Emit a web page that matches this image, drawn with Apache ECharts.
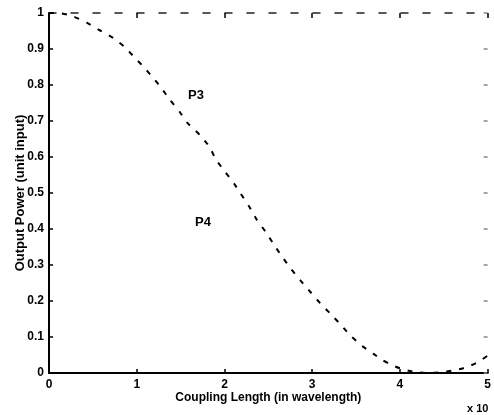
<!DOCTYPE html>
<html>
<head>
<meta charset="utf-8">
<script src="https://cdn.jsdelivr.net/npm/echarts@6/dist/echarts.min.js"></script>
<style>
  html, body { margin: 0; padding: 0; background: #fff; }
  #chart { width: 494px; height: 415px; }
</style>
</head>
<body>
<div id="chart"></div>
<script>
// coupling length (x 10^n wavelengths) and output power P3
const lengthX = [0, 0.1, 0.26, 0.44, 0.57, 0.73, 0.86, 0.97, 1.08, 1.19, 1.28, 1.38, 1.49, 1.58, 1.72, 1.83, 1.9,
  2.01, 2.11, 2.18, 2.28, 2.37, 2.47, 2.56, 2.66, 2.76, 2.87, 2.98, 3.09, 3.21, 3.33, 3.44, 3.57, 3.7,
  3.8, 3.9, 4.0, 4.1, 4.2, 4.3, 4.4, 4.5, 4.6, 4.7, 4.8, 4.9, 5.0]
const powerP3 = [1, 1.0, 0.992, 0.972, 0.953, 0.931, 0.906, 0.878, 0.85, 0.819, 0.792, 0.758, 0.725, 0.694, 0.661, 0.628, 0.594,
  0.558, 0.526, 0.5, 0.463, 0.425, 0.392, 0.358, 0.322, 0.289, 0.256, 0.225, 0.194, 0.164, 0.133, 0.103, 0.075, 0.053,
  0.036, 0.023, 0.013, 0.006, 0.002, 0.0, 0.001, 0.003, 0.007, 0.012, 0.02, 0.032, 0.048]

const xTicks = [0, 1, 2, 3, 4, 5]
const yTicks = [0, 0.1, 0.2, 0.3, 0.4, 0.5, 0.6, 0.7, 0.8, 0.9, 1]

const font = 'Liberation Sans, Arial, Helvetica, sans-serif'

const chart = echarts.init(document.getElementById('chart'), null, { renderer: 'canvas' })

chart.setOption({
  animation: false,
  backgroundColor: '#fff',
  grid: { left: 49, right: 2, top: 13, bottom: 42 },
  xAxis: [{
    type: 'value',
    min: xTicks[0],
    max: xTicks[xTicks.length - 1],
    interval: 1,
    name: 'Coupling Length (in wavelength)',
    nameLocation: 'middle',
    nameGap: 19,
    nameMoveOverlap: false,
    nameTextStyle: { color: '#000', fontFamily: font, fontSize: 12, fontWeight: 'bold' },
    axisLine: { onZero: false, lineStyle: { color: '#000', width: 2 } },
    axisTick: { inside: true, length: 4, lineStyle: { color: '#000', width: 1.5 } },
    axisLabel: { color: '#000', fontFamily: font, fontSize: 12, fontWeight: 'bold', margin: 6 },
    splitLine: { show: false }
  }, {
    // faded top frame edge
    type: 'value',
    position: 'top',
    min: 0,
    max: 5,
    interval: 1,
    axisLine: { onZero: false, lineStyle: { color: '#222', width: 1.5, type: [7, 15] } },
    axisTick: { inside: true, length: 5, lineStyle: { color: '#000', width: 1.5 } },
    axisLabel: { show: false },
    splitLine: { show: false }
  }],
  yAxis: [{
    type: 'value',
    min: yTicks[0],
    max: yTicks[yTicks.length - 1],
    interval: 0.1,
    name: 'Output Power (unit input)',
    nameLocation: 'middle',
    nameGap: 22,
    nameMoveOverlap: false,
    nameTextStyle: { color: '#000', fontFamily: font, fontSize: 13, fontWeight: 'bold' },
    axisLine: { onZero: false, lineStyle: { color: '#000', width: 2 } },
    axisTick: { inside: true, length: 4, lineStyle: { color: '#000', width: 1.5 } },
    axisLabel: {
      color: '#000', fontFamily: font, fontSize: 12, fontWeight: 'bold', margin: 5,
      formatter: v => (Math.round(v * 10) / 10).toString()
    },
    splitLine: { show: false }
  }, {
    // right frame edge, only the ticks survived the scan
    type: 'value',
    position: 'right',
    min: 0,
    max: 1,
    interval: 0.1,
    axisLine: { show: false, onZero: false },
    axisTick: { show: true, inside: true, length: 4, lineStyle: { color: '#888', width: 1.5 } },
    axisLabel: { show: false },
    splitLine: { show: false }
  }],
  graphic: [
    { type: 'text', left: 188, top: 89, style: { text: 'P3', fill: '#000', font: 'bold 13px ' + font } },
    { type: 'text', left: 195, top: 216, style: { text: 'P4', fill: '#000', font: 'bold 13px ' + font } },
    { type: 'text', left: 467, top: 403, style: { text: 'x 10', fill: '#000', font: 'bold 11px ' + font } }
  ],
  series: [{
    name: 'P3',
    type: 'line',
    data: lengthX.map((x, i) => [x, powerP3[i]]),
    showSymbol: false,
    smooth: 0.2,
    lineStyle: { color: '#000', width: 2, type: [5, 8] }
  }]
})
</script>
</body>
</html>
